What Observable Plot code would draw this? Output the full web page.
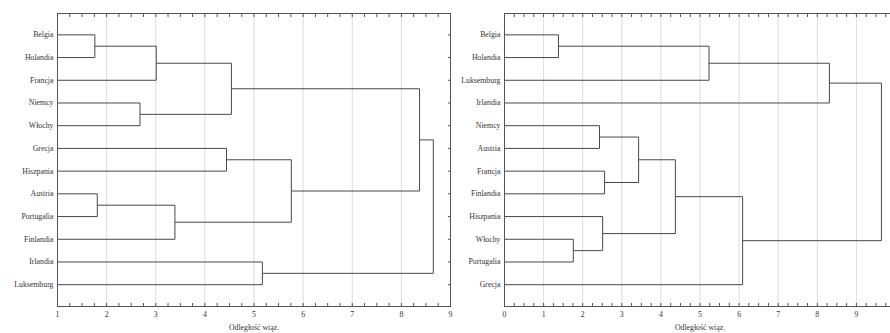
<!DOCTYPE html>
<html>
<head>
<meta charset="utf-8">
<script src="https://cdn.jsdelivr.net/npm/d3@7"></script>
<script src="https://cdn.jsdelivr.net/npm/@observablehq/plot@0.6"></script>
<style>
  html, body { margin: 0; padding: 0; background: #fff; }
  #wrap { position: relative; width: 890px; height: 333px; overflow: hidden; background: #fff; }
  #wrap svg { position: absolute; top: 0; }
</style>
</head>
<body>
<div id="wrap"></div>
<script>
// ---- Data ----
const xLabel = "Odległość wiąz.";

// Left dendrogram
const leftLeaves = ["Belgia","Holandia","Francja","Niemcy","Włochy","Grecja","Hiszpania","Austria","Portugalia","Finlandia","Irlandia","Luksemburg"];
// [childA, childB, linkage distance]; new clusters get ids 12, 13, ...
const leftMerges = [
  [0, 1, 1.76],   // 12
  [12, 2, 3.01],  // 13
  [3, 4, 2.68],   // 14
  [13, 14, 4.54], // 15
  [5, 6, 4.44],   // 16
  [7, 8, 1.81],   // 17
  [17, 9, 3.39],  // 18
  [16, 18, 5.76], // 19
  [15, 19, 8.37], // 20
  [10, 11, 5.17], // 21
  [20, 21, 8.65]  // 22
];
const leftDomain = [1, 9];
const leftTickLabels = [1, 2, 3, 4, 5, 6, 7, 8, 9];

// Right dendrogram
const rightLeaves = ["Belgia","Holandia","Luksemburg","Irlandia","Niemcy","Austria","Francja","Finlandia","Hiszpania","Włochy","Portugalia","Grecja"];
const rightMerges = [
  [0, 1, 1.38],   // 12
  [12, 2, 5.23],  // 13
  [13, 3, 8.31],  // 14
  [4, 5, 2.43],   // 15
  [6, 7, 2.56],   // 16
  [15, 16, 3.43], // 17
  [9, 10, 1.76],  // 18
  [8, 18, 2.51],  // 19
  [17, 19, 4.37], // 20
  [20, 11, 6.09], // 21
  [14, 21, 9.64]  // 22
];
const rightDomain = [0, 10];
const rightTickLabels = [0, 1, 2, 3, 4, 5, 6, 7, 8, 9];

// ---- Drawing ----
function dendro(leaves, merges, domain, tickLabels, layout) {
  const n = leaves.length;
  const xmin = domain[0], xmax = domain[1];
  const pos = leaves.map((_, i) => ({x: xmin, y: i}));
  const segs = [];
  for (const [a, b, h] of merges) {
    const A = pos[a], B = pos[b];
    segs.push({x1: A.x, y1: A.y, x2: h, y2: A.y});
    segs.push({x1: B.x, y1: B.y, x2: h, y2: B.y});
    segs.push({x1: h, y1: A.y, x2: h, y2: B.y});
    pos.push({x: h, y: (A.y + B.y) / 2});
  }
  const integers = d3.range(xmin, xmax + 0.001, 1);
  const quarters = d3.range(xmin, xmax + 0.001, 0.25);
  const rows = d3.range(n);
  return Plot.plot({
    width: layout.width,
    height: 333,
    marginTop: 13,
    marginBottom: 27,
    marginLeft: layout.marginLeft,
    marginRight: 1,
    style: {fontFamily: "'Liberation Serif', serif", fontSize: "7.8px", color: "#333", background: "none", overflow: "visible"},
    x: {domain},
    y: {domain: [-0.94, n - 0.04], reverse: true},
    marks: [
      Plot.gridX(integers, {stroke: "#dcdcdc", strokeOpacity: 1}),
      Plot.link(segs, {x1: "x1", y1: "y1", x2: "x2", y2: "y2", stroke: "#484848", strokeWidth: 1}),
      Plot.axisX(tickLabels, {anchor: "bottom", tickSize: 0, tickPadding: 5, label: null, fill: "#333"}),
      Plot.axisX(quarters, {anchor: "bottom", tickSize: -3, tickFormat: () => "", label: null, stroke: "#555"}),
      Plot.axisX(quarters, {anchor: "top", tickSize: -3, tickFormat: () => "", label: null, stroke: "#555"}),
      Plot.axisY(rows, {anchor: "left", tickSize: 0, tickPadding: 4, tickFormat: i => leaves[i], label: null, fill: "#333"}),
      Plot.axisY(rows, {anchor: "right", tickSize: -3, tickFormat: () => "", label: null, stroke: "#555"}),
      Plot.frame({stroke: "#555"}),
      Plot.text([xLabel], {frameAnchor: "bottom", dy: 23, text: d => d, fill: "#333"})
    ]
  });
}

const wrap = document.getElementById("wrap");
const right = dendro(rightLeaves, rightMerges, rightDomain, rightTickLabels, {width: 450, marginLeft: 58});
right.style.left = "446px";
wrap.appendChild(right);
const left = dendro(leftLeaves, leftMerges, leftDomain, leftTickLabels, {width: 451, marginLeft: 57});
left.style.left = "0px";
wrap.appendChild(left);
</script>
</body>
</html>
